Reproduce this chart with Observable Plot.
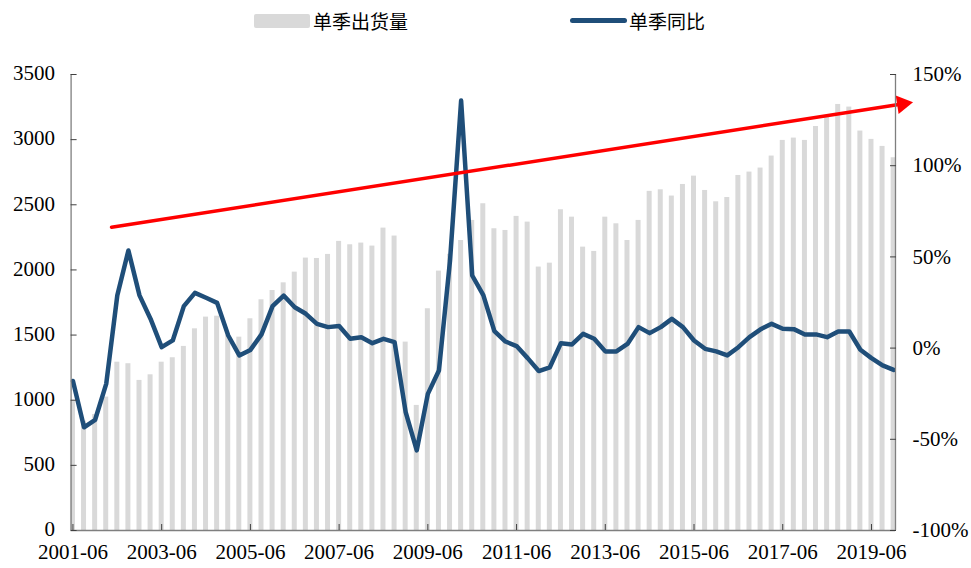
<!DOCTYPE html>
<html>
<head>
<meta charset="utf-8">
<script src="https://cdn.jsdelivr.net/npm/d3@7"></script>
<script src="https://cdn.jsdelivr.net/npm/@observablehq/plot@0.6"></script>
<style>
  body { margin: 0; background: #fff; }
  #wrap { position: relative; width: 971px; height: 568px; overflow: hidden; }
  #legend { position: relative; width: 971px; height: 40px; font-family: "Noto Sans CJK SC", sans-serif; font-size: 19px; color: #000; }
  .sw-bar { position: absolute; left: 254px; top: 14px; width: 56px; height: 14px; background: #d9d9d9; border-radius: 2px; }
  .sw-line { position: absolute; left: 570px; top: 18px; width: 57px; height: 5px; background: #1f4e79; border-radius: 3px; }
  .lg-text { position: absolute; top: 7px; line-height: 28px; white-space: nowrap; }
  #chart svg { display: block; }
</style>
</head>
<body>
<div id="wrap">
  <div id="legend">
    <div class="sw-bar"></div><div class="lg-text" style="left:313px">单季出货量</div>
    <div class="sw-line"></div><div class="lg-text" style="left:629px">单季同比</div>
  </div>
  <div id="chart"></div>
</div>
<script>
// ---- data ----
const quarters = [
  "2001-06","2001-09","2001-12","2002-03","2002-06","2002-09","2002-12","2003-03",
  "2003-06","2003-09","2003-12","2004-03","2004-06","2004-09","2004-12","2005-03",
  "2005-06","2005-09","2005-12","2006-03","2006-06","2006-09","2006-12","2007-03",
  "2007-06","2007-09","2007-12","2008-03","2008-06","2008-09","2008-12","2009-03",
  "2009-06","2009-09","2009-12","2010-03","2010-06","2010-09","2010-12","2011-03",
  "2011-06","2011-09","2011-12","2012-03","2012-06","2012-09","2012-12","2013-03",
  "2013-06","2013-09","2013-12","2014-03","2014-06","2014-09","2014-12","2015-03",
  "2015-06","2015-09","2015-12","2016-03","2016-06","2016-09","2016-12","2017-03",
  "2017-06","2017-09","2017-12","2018-03","2018-06","2018-09","2018-12","2019-03",
  "2019-06","2019-09","2019-12"
];
// 单季出货量
const shipments = [
  1000, 840, 890, 1024, 1292, 1280, 1152, 1195,
  1292, 1326, 1413, 1548, 1638, 1645, 1500, 1484,
  1625, 1771, 1842, 1901, 1983, 2091, 2088, 2119,
  2219, 2193, 2206, 2183, 2321, 2260, 1446, 960,
  1702, 1991, 2120, 2226, 2380, 2508, 2316, 2303,
  2411, 2367, 2022, 2052, 2462, 2405, 2175, 2142,
  2405, 2354, 2226, 2380, 2603, 2615, 2567, 2656,
  2720, 2610, 2523, 2556, 2725, 2751, 2782, 2874,
  2994, 3012, 2994, 3101, 3186, 3270, 3250, 3066,
  3002, 2948, 2861
];
// 单季同比 (%)
const yoy = [
  -18, -43.4, -39.3, -19.6, 28.9, 53.5, 28.9, 16.0,
  0.5, 4.2, 23.0, 30.3, 27.6, 24.8, 6.9, -4.0,
  -1.0, 7.5, 23.0, 28.8, 22.4, 18.8, 13.3, 11.5,
  12.1, 5.1, 6.0, 2.7, 5.1, 3.3, -35.1, -56.1,
  -25.1, -12.3, 48.0, 135.7, 39.8, 29.0, 9.3, 3.6,
  1.1, -5.5, -12.6, -10.5, 2.7, 2.0, 7.8, 5.1,
  -1.8, -1.8, 2.3, 11.5, 8.2, 11.5, 16.0, 11.5,
  4.2, -0.4, -1.8, -4.0, 0.5, 6.0, 10.3, 13.3,
  10.6, 10.4, 7.5, 7.5, 6.0, 9.1, 9.1, -0.9,
  -5.5, -9.5, -11.9
];
const leftTicks = [0, 500, 1000, 1500, 2000, 2500, 3000, 3500];
const rightTicks = [-100, -50, 0, 50, 100, 150];
const xTickLabels = ["2001-06","2003-06","2005-06","2007-06","2009-06","2011-06","2013-06","2015-06","2017-06","2019-06"];
// red trend arrow: start and tip, in (quarter index, 出货量) units
const trendStart = {q: 3.48, v: 2328};
const trendTip = {q: 75.77, v: 3287};

// ---- derived ----
const leftMax = 3500, rMin = -100, rMax = 150;
const toLeft = p => (p - rMin) / (rMax - rMin) * leftMax;
const data = quarters.map((q, i) => ({i, q, v: shipments[i], p: yoy[i]}));
const xDomain = [-1 / 6, quarters.length - 1 + 1 / 6];
const bw = 0.225;
const tickIdx = xTickLabels.map(l => quarters.indexOf(l));
const lerp = (a, b, t) => ({q: a.q + (b.q - a.q) * t, v: a.v + (b.v - a.v) * t});
const headCenter = lerp(trendStart, trendTip, 0.9865);
const shaftEnd = lerp(trendStart, trendTip, 0.98);
const axisColor = "#7f7f7f";

const chart = Plot.plot({
  width: 971,
  height: 528,
  marginTop: 34,
  marginBottom: 38,
  marginLeft: 70.6,
  marginRight: 76,
  x: {type: "linear", domain: xDomain, axis: null},
  y: {domain: [0, leftMax], axis: null},
  style: {fontFamily: "'Liberation Serif', 'Times New Roman', serif", fontSize: "21px", color: "#000", background: "#fff"},
  marks: [
    Plot.rectY(data, {x1: d => d.i - bw, x2: d => d.i + bw, y: "v", fill: "#d9d9d9"}),
    Plot.line(data, {x: "i", y: d => toLeft(d.p), stroke: "#1f4e79", strokeWidth: 4.5, strokeLinejoin: "round", strokeLinecap: "round"}),
    Plot.line([trendStart, shaftEnd], {x: "q", y: "v", stroke: "#ff0000", strokeWidth: 3.5}),
    Plot.dot([headCenter], {x: "q", y: "v", symbol: "triangle", r: 6.9, fill: "#ff0000", stroke: "none", rotate: 81.1}),
    Plot.ruleX([xDomain[0]], {stroke: axisColor, strokeWidth: 1.3}),
    Plot.ruleX([xDomain[1]], {stroke: axisColor, strokeWidth: 1.3}),
    Plot.ruleY([0], {stroke: axisColor, strokeWidth: 1.3}),
    // left axis: inward ticks + labels
    Plot.axisY({ticks: leftTicks, tickSize: 6, dx: 6, fill: "none", stroke: "#404040", label: null}),
    Plot.axisY({ticks: leftTicks, tickSize: 0, tickPadding: 16, dy: -1, tickFormat: d => String(d), label: null}),
    // right axis
    Plot.axisY({anchor: "right", ticks: rightTicks.map(toLeft), tickSize: 6, dx: -6, fill: "none", stroke: "#404040", label: null}),
    Plot.axisY({anchor: "right", ticks: rightTicks.map(toLeft), tickSize: 0, tickPadding: 17,
      tickFormat: v => `${Math.round(v / leftMax * (rMax - rMin) + rMin)}%`, label: null}),
    // bottom axis
    Plot.axisX({ticks: tickIdx, tickSize: 6, dy: -6, fill: "none", stroke: "#404040", label: null}),
    Plot.axisX({ticks: tickIdx, tickSize: 0, tickPadding: 14, tickFormat: i => quarters[i], label: null})
  ]
});
document.getElementById("chart").appendChild(chart);
</script>
</body>
</html>
